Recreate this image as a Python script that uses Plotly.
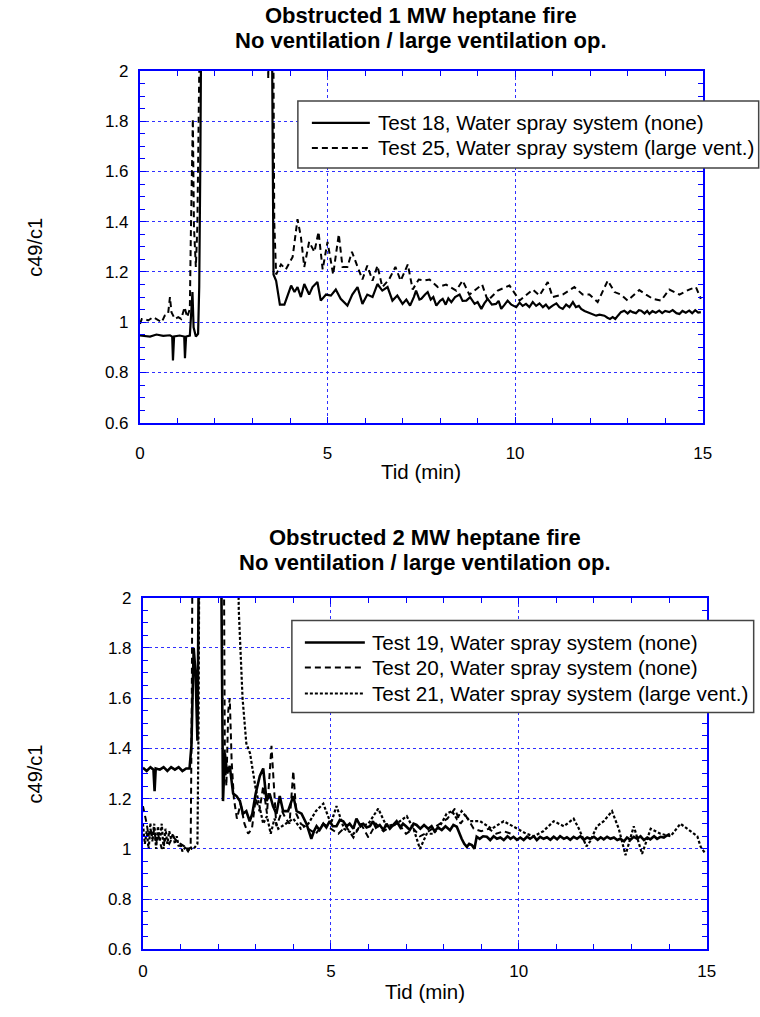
import plotly.graph_objects as go

# ---------------- data: upper panel (1 MW) ----------------
t18 = [0, 0.27, 0.44, 0.62, 0.8, 0.86, 0.88, 0.91, 1.06, 1.18, 1.2, 1.23, 1.33, 1.4, 1.43,
       1.49, 1.55, 1.58, 1.61, 1.65, 3.5, 3.56, 3.63, 3.73, 3.85, 3.94, 4.03, 4.12, 4.2, 4.29,
       4.38, 4.51, 4.6, 4.73, 4.82, 4.96, 5.09, 5.22, 5.35, 5.53, 5.66, 5.8, 5.93, 6.06, 6.2,
       6.33, 6.46, 6.6, 6.73, 6.86, 7.0, 7.1, 7.2, 7.3, 7.36, 7.45, 7.5, 7.6, 7.67, 7.75, 7.82,
       7.9, 8.0, 8.07, 8.15, 8.22, 8.3, 8.4, 8.52, 8.6, 8.7, 8.8, 8.92, 9.0, 9.1, 9.18, 9.27,
       9.38, 9.49, 9.56, 9.63, 9.72, 9.8, 9.9, 10.03, 10.12, 10.2, 10.29, 10.38, 10.47, 10.56,
       10.65, 10.74, 10.82, 10.9, 11.0, 11.1, 11.18, 11.27, 11.36, 11.45, 11.54, 11.62, 11.7,
       11.76, 11.85, 11.94, 12.05, 12.16, 12.25, 12.38, 12.46, 12.53, 12.6, 12.67, 12.74, 12.82,
       12.91, 13.0, 13.07, 13.13, 13.22, 13.3, 13.36, 13.45, 13.52, 13.58, 13.66, 13.75, 13.84,
       13.92, 14.0, 14.11, 14.2, 14.3, 14.38, 14.46, 14.55, 14.64, 14.72, 14.8, 14.88, 14.95]
c18 = [0.947, 0.943, 0.951, 0.946, 0.948, 0.943, 0.848, 0.943, 0.947, 0.943, 0.857, 0.943, 0.947,
       1.12, 0.98, 0.943, 0.954, 1.14, 1.64, 2.6, 2.6, 1.19, 1.165, 1.07, 1.07, 1.106, 1.146, 1.12,
       1.14, 1.1, 1.152, 1.11, 1.14, 1.16, 1.086, 1.11, 1.106, 1.13, 1.093, 1.066, 1.11, 1.14, 1.073,
       1.11, 1.1, 1.152, 1.126, 1.14, 1.086, 1.106, 1.073, 1.09, 1.066, 1.1, 1.126, 1.09, 1.093,
       1.11, 1.12, 1.09, 1.1, 1.066, 1.085, 1.093, 1.07, 1.095, 1.08, 1.1, 1.11, 1.085, 1.086, 1.1,
       1.073, 1.08, 1.053, 1.075, 1.093, 1.07, 1.073, 1.085, 1.053, 1.07, 1.086, 1.07, 1.06, 1.078,
       1.065, 1.073, 1.06, 1.08, 1.065, 1.075, 1.06, 1.07, 1.055, 1.066, 1.075, 1.06, 1.053, 1.07,
       1.06, 1.08, 1.06, 1.065, 1.053, 1.045, 1.04, 1.035, 1.026, 1.03, 1.026, 1.018, 1.013, 1.02,
       1.013, 1.026, 1.04, 1.046, 1.035, 1.045, 1.04, 1.036, 1.048, 1.046, 1.035, 1.045, 1.033,
       1.044, 1.038, 1.046, 1.036, 1.045, 1.04, 1.048, 1.036, 1.033, 1.045, 1.038, 1.046, 1.036,
       1.048, 1.038, 1.04]

t25 = [0, 0.05, 0.13, 0.22, 0.35, 0.44, 0.58, 0.66, 0.75, 0.8, 0.84, 0.93, 1.02, 1.1, 1.19, 1.26,
       1.33, 1.36, 1.41, 1.44, 1.49, 1.53, 1.59, 1.63, 3.38, 3.42, 3.47, 3.54, 3.58, 3.63, 3.76, 3.89,
       4.07, 4.2, 4.29, 4.38, 4.51, 4.65, 4.76, 4.87, 5.0, 5.15, 5.3, 5.4, 5.53, 5.65, 5.8, 5.93, 6.06,
       6.2, 6.33, 6.46, 6.64, 6.81, 6.95, 7.14, 7.27, 7.43, 7.58, 7.72, 7.94, 8.16, 8.43, 8.6, 8.78,
       9.12, 9.27, 9.54, 9.85, 10.12, 10.47, 10.65, 10.87, 11.0, 11.27, 11.58, 11.8, 11.98, 12.2,
       12.47, 12.65, 12.82, 13.0, 13.31, 13.49, 13.67, 13.89, 14.11, 14.38, 14.64, 14.82, 14.95]
c25 = [0.993, 1.013, 1.013, 1.007, 1.02, 1.013, 1.0, 1.026, 1.033, 1.1, 1.04, 1.013, 1.02, 1.013,
       1.06, 1.02, 1.053, 1.38, 1.81, 1.38, 1.22, 1.38, 1.8, 2.6, 2.6, 1.97, 2.6, 2.6, 1.4, 1.19,
       1.23, 1.21, 1.26, 1.41, 1.34, 1.22, 1.32, 1.28, 1.36, 1.21, 1.32, 1.19, 1.35, 1.22, 1.22, 1.28,
       1.225, 1.17, 1.225, 1.165, 1.225, 1.14, 1.17, 1.22, 1.165, 1.23, 1.13, 1.17, 1.166, 1.17,
       1.14, 1.15, 1.126, 1.166, 1.11, 1.15, 1.086, 1.126, 1.146, 1.086, 1.13, 1.106, 1.16, 1.1,
       1.11, 1.14, 1.11, 1.11, 1.08, 1.166, 1.12, 1.11, 1.086, 1.128, 1.11, 1.093, 1.086, 1.13,
       1.11, 1.13, 1.14, 1.093]

# ---------------- data: lower panel (2 MW) ----------------
t19 = [0, 0.1, 0.2, 0.28, 0.31, 0.34, 0.45, 0.55, 0.65, 0.75, 0.85, 0.95, 1.05, 1.15, 1.24, 1.29,
       1.35, 1.4, 1.45, 1.48, 1.51, 2.06, 2.13, 2.18, 2.24, 2.31, 2.4, 2.49, 2.58, 2.66, 2.75, 2.84,
       2.91, 3.0, 3.11, 3.2, 3.29, 3.37, 3.46, 3.55, 3.64, 3.73, 3.86, 4.0, 4.09, 4.22, 4.35, 4.48,
       4.55, 4.62, 4.7, 4.8, 4.88, 4.97, 5.05, 5.15, 5.24, 5.33, 5.42, 5.5, 5.6, 5.68, 5.77, 5.86,
       5.95, 6.04, 6.12, 6.2, 6.3, 6.4, 6.48, 6.57, 6.66, 6.75, 6.85, 6.92, 7.0, 7.1, 7.2, 7.28,
       7.38, 7.48, 7.59, 7.68, 7.76, 7.85, 7.95, 8.05, 8.17, 8.26, 8.35, 8.42, 8.48, 8.55, 8.62,
       8.68, 8.75, 8.82, 8.88, 8.96, 9.05, 9.15, 9.24, 9.33, 9.42, 9.51, 9.6, 9.7, 9.78, 9.86, 9.95,
       10.04, 10.13, 10.22, 10.3, 10.4, 10.48, 10.57, 10.66, 10.75, 10.84, 10.93, 11.02, 11.1, 11.2,
       11.28, 11.37, 11.46, 11.55, 11.64, 11.73, 11.82, 11.9, 12.0, 12.1, 12.18, 12.26, 12.35,
       12.44, 12.53, 12.62, 12.7, 12.8, 12.88, 12.97, 13.06, 13.15, 13.24, 13.33, 13.42, 13.5, 13.6,
       13.68, 13.77, 13.86, 13.95, 14.02]
c19 = [1.323, 1.31, 1.325, 1.315, 1.23, 1.32, 1.315, 1.325, 1.31, 1.325, 1.315, 1.325, 1.31, 1.32,
       1.32, 1.41, 1.80, 1.70, 1.43, 1.71, 2.6, 2.6, 1.19, 1.38, 1.3, 1.33, 1.22, 1.21, 1.19, 1.14,
       1.15, 1.11, 1.14, 1.22, 1.29, 1.32, 1.19, 1.22, 1.17, 1.14, 1.21, 1.15, 1.15, 1.21, 1.15, 1.14,
       1.10, 1.04, 1.07, 1.09, 1.075, 1.10, 1.085, 1.11, 1.09, 1.09, 1.115, 1.11, 1.09, 1.10, 1.08,
       1.12, 1.095, 1.10, 1.085, 1.09, 1.11, 1.085, 1.095, 1.075, 1.10, 1.08, 1.095, 1.11, 1.085,
       1.1, 1.09, 1.075, 1.1, 1.095, 1.08, 1.095, 1.08, 1.09, 1.07, 1.085, 1.075, 1.09, 1.074, 1.095,
       1.088, 1.06, 1.04, 1.02, 1.008, 1.02, 1.015, 1.0, 1.048, 1.04, 1.05, 1.048, 1.035, 1.05, 1.04,
       1.045, 1.035, 1.05, 1.04, 1.048, 1.036, 1.045, 1.035, 1.048, 1.04, 1.05, 1.035, 1.048, 1.04,
       1.046, 1.036, 1.048, 1.038, 1.05, 1.04, 1.046, 1.036, 1.048, 1.04, 1.05, 1.036, 1.045, 1.04,
       1.048, 1.036, 1.046, 1.038, 1.048, 1.04, 1.045, 1.035, 1.04, 1.03, 1.045, 1.036, 1.048, 1.04,
       1.05, 1.035, 1.045, 1.038, 1.05, 1.04, 1.048, 1.045, 1.054, 1.06]

t20 = [0, 0.05, 0.1, 0.15, 0.2, 0.25, 0.3, 0.35, 0.4, 0.5, 0.6, 0.7, 0.8, 0.9, 1.0, 1.1, 1.2, 1.27,
       1.3, 1.33, 2.14, 2.18, 2.22, 2.27, 2.31, 2.36, 2.42, 2.5, 2.6, 2.7, 2.8, 2.9, 3.0, 3.1, 3.2,
       3.3, 3.42, 3.5, 3.55, 3.7, 3.8, 3.9, 4.0, 4.08, 4.2, 4.4, 4.6, 4.8, 5.0, 5.2, 5.4, 5.6, 5.8,
       6.0, 6.2, 6.4, 6.6, 6.8, 7.0, 7.2, 7.37, 7.5, 7.7, 7.9, 8.1, 8.3, 8.45, 8.6, 8.8, 9.0, 9.2,
       9.4, 9.6, 9.8]
c20 = [1.17, 1.14, 1.1, 1.05, 1.1, 1.03, 1.08, 1.02, 1.06, 1.0, 1.04, 1.02, 1.05, 1.03, 1.02, 1.01,
       0.99, 1.01, 1.6, 2.6, 2.6, 1.35, 1.25, 1.55, 1.6, 1.35, 1.2, 1.12, 1.18, 1.1, 1.06, 1.08, 1.2,
       1.15, 1.25, 1.14, 1.41, 1.2, 1.09, 1.15, 1.12, 1.1, 1.31, 1.14, 1.1, 1.08, 1.06, 1.1, 1.08,
       1.06, 1.09, 1.045, 1.1, 1.045, 1.1, 1.07, 1.09, 1.1, 1.06, 1.08, 1.05, 1.06, 1.08, 1.1, 1.12,
       1.16, 1.1, 1.13, 1.08, 1.07, 1.08, 1.06, 1.07, 1.06]

t21 = [0, 0.05, 0.1, 0.15, 0.2, 0.25, 0.3, 0.35, 0.4, 0.45, 0.5, 0.55, 0.6, 0.65, 0.7, 0.75, 0.8,
       0.85, 0.9, 0.95, 1.0, 1.05, 1.1, 1.15, 1.2, 1.25, 1.3, 1.35, 1.4, 1.45, 1.48, 1.51, 2.5, 2.55,
       2.65, 2.75, 2.85, 2.93, 3.0, 3.1, 3.2, 3.3, 3.4, 3.5, 3.6, 3.8, 4.0, 4.2, 4.4, 4.6, 4.8, 5.0,
       5.15, 5.35, 5.6, 5.8, 6.0, 6.26, 6.48, 6.75, 7.02, 7.2, 7.37, 7.55, 7.73, 7.9, 8.08, 8.22,
       8.35, 8.48, 8.7, 8.97, 9.28, 9.6, 9.95, 10.2, 10.4, 10.65, 10.93, 11.2, 11.46, 11.6, 11.8,
       11.9, 12.08, 12.26, 12.48, 12.66, 12.84, 12.95, 13.06, 13.28, 13.51, 13.77, 14.04, 14.3,
       14.57, 14.75, 14.84, 14.97]
c21 = [1.1, 1.02, 1.07, 1.0, 1.08, 1.04, 1.1, 1.0, 1.09, 1.03, 1.1, 1.0, 1.08, 1.02, 1.07, 1.04,
       1.06, 1.02, 1.05, 1.01, 1.02, 0.99, 1.0, 1.01, 0.99, 1.01, 1.0, 1.0, 1.01, 1.02, 1.5, 2.6,
       2.6, 1.95, 1.6, 1.42, 1.38, 1.3, 1.24, 1.17, 1.1, 1.13, 1.06, 1.12, 1.08, 1.1, 1.12, 1.08,
       1.1, 1.15, 1.18, 1.1, 1.17, 1.08, 1.06, 1.09, 1.1, 1.16, 1.09, 1.1, 1.13, 1.08, 1.0, 1.06,
       1.06, 1.09, 1.14, 1.15, 1.12, 1.15, 1.11, 1.11, 1.08, 1.11, 1.08, 1.06, 1.05, 1.07, 1.11,
       1.09, 1.12, 1.08, 1.01, 1.03, 1.09, 1.11, 1.15, 1.08, 0.975, 1.03, 1.09, 0.98, 1.08, 1.06,
       1.05, 1.10, 1.07, 1.05, 1.008, 0.98]

panel_titles = [("Obstructed 1 MW heptane fire", "No ventilation / large ventilation op."),
                ("Obstructed 2 MW heptane fire", "No ventilation / large ventilation op.")]
names_top = ["Test 18, Water spray system (none)",
             "Test 25, Water spray system (large vent.)"]
names_bottom = ["Test 19, Water spray system (none)",
                "Test 20, Water spray system (none)",
                "Test 21, Water spray system (large vent.)"]
x_title = "Tid (min)"
y_title = "c49/c1"

# ---------------- layout geometry ----------------
# Positions are written in screen pixels; the page shows the figure with a small
# inset and a 0.982 scale, so they are converted back to figure pixels here.
W, H = 760, 1017
SCALE, OFF_X, OFF_Y = 0.982, 5.0, 8.0
FONT = "Arial, Liberation Sans, sans-serif"
BLUE = "#0000ff"
GRID = "#3030ff"

def px(x):
    return ((x - OFF_X) / SCALE) / W

def py(y):
    return 1 - ((y - OFF_Y) / SCALE) / H

SOLID = "solid"
DASHED = "6px,4px"
DOTTED = "3px,2px"

fig = go.Figure()

top_series = [(t18, c18, SOLID, 2.2), (t25, c25, DASHED, 2.0)]
bot_series = [(t19, c19, SOLID, 2.6), (t20, c20, DASHED, 2.0), (t21, c21, DOTTED, 2.2)]

for (t, c, dash, w), name in zip(top_series, names_top):
    fig.add_trace(go.Scatter(x=t, y=c, mode="lines", name=name, showlegend=False,
                             line=dict(color="black", width=w, dash=dash),
                             xaxis="x", yaxis="y"))
for (t, c, dash, w), name in zip(bot_series, names_bottom):
    fig.add_trace(go.Scatter(x=t, y=c, mode="lines", name=name, showlegend=False,
                             line=dict(color="black", width=w, dash=dash),
                             xaxis="x2", yaxis="y2"))

def xaxis_cfg(left, right, anchor, standoff):
    return dict(domain=[px(left), px(right)], range=[0, 15], dtick=5, tick0=0, anchor=anchor,
                ticks="inside", ticklen=6, tickwidth=1, tickcolor=BLUE,
                showline=True, linecolor=BLUE, linewidth=2, mirror="allticks",
                showgrid=True, gridcolor=GRID, griddash="dot", gridwidth=1,
                zeroline=False, ticklabelstandoff=standoff,
                tickfont=dict(family=FONT, size=17, color="black"),
                minor=dict(dtick=1, tick0=0, ticks="inside", ticklen=5,
                           tickcolor=BLUE, showgrid=False))

def yaxis_cfg(top, bottom, anchor):
    return dict(domain=[py(bottom), py(top)], range=[0.6, 2], dtick=0.2, tick0=0.6, anchor=anchor,
                ticks="inside", ticklen=6, tickwidth=1, tickcolor=BLUE,
                showline=True, linecolor=BLUE, linewidth=2, mirror="allticks",
                showgrid=True, gridcolor=GRID, griddash="dot", gridwidth=1,
                zeroline=False, ticklabelstandoff=6,
                tickfont=dict(family=FONT, size=17, color="black"),
                minor=dict(dtick=0.05, tick0=0.6, ticks="inside", ticklen=5,
                           tickcolor=BLUE, showgrid=False))

fig.update_layout(
    width=W, height=H, margin=dict(l=0, r=0, t=0, b=0),
    paper_bgcolor="white", plot_bgcolor="white", showlegend=False,
    xaxis=xaxis_cfg(140, 703, "y", 14), yaxis=yaxis_cfg(70, 422, "x"),
    xaxis2=xaxis_cfg(143, 707, "y2", 5), yaxis2=yaxis_cfg(597, 949, "x2"),
)

annotations = []
shapes = []

def text(s, x, y, size, anchor="center", angle=0):
    annotations.append(dict(text=s, x=px(x), y=py(y), xref="paper", yref="paper",
                            showarrow=False, xanchor=anchor, yanchor="middle", textangle=angle,
                            font=dict(family=FONT, size=size, color="black")))

# panel titles, axis titles
for (l1, l2), cx, cy in [(panel_titles[0], 421, 15), (panel_titles[1], 425, 537)]:
    text("<b>" + l1 + "</b>", cx, cy, 22)
    text("<b>" + l2 + "</b>", cx, cy + 25, 22)
for cx, cy in [(421, 471), (425, 991)]:
    text(x_title, cx, cy, 20.5)
for cy in [246, 773]:
    text(y_title, 35, cy, 20, angle=-90)

# legend boxes
def legend(box, rows, names, styles, x0, x1, xt):
    l, t, r, b = box
    shapes.append(dict(type="rect", xref="paper", yref="paper", x0=px(l), x1=px(r), y0=py(b), y1=py(t),
                       fillcolor="white", line=dict(color="#444444", width=1.5), layer="above"))
    for y, name, (dash, w) in zip(rows, names, styles):
        shapes.append(dict(type="line", xref="paper", yref="paper", x0=px(x0), x1=px(x1), y0=py(y), y1=py(y),
                           line=dict(color="black", width=w, dash=dash), layer="above"))
        text(name, xt, y, 20.7, anchor="left")

legend((298, 100, 759, 167), [122, 147], names_top,
       [(SOLID, 2.2), (DASHED, 2.0)], 312, 370, 376)
legend((292, 620, 754, 712), [642, 667, 693], names_bottom,
       [(SOLID, 2.6), (DASHED, 2.0), (DOTTED, 2.2)], 305, 365, 370)

fig.update_layout(annotations=annotations, shapes=shapes)
fig.write_html("out.html")
